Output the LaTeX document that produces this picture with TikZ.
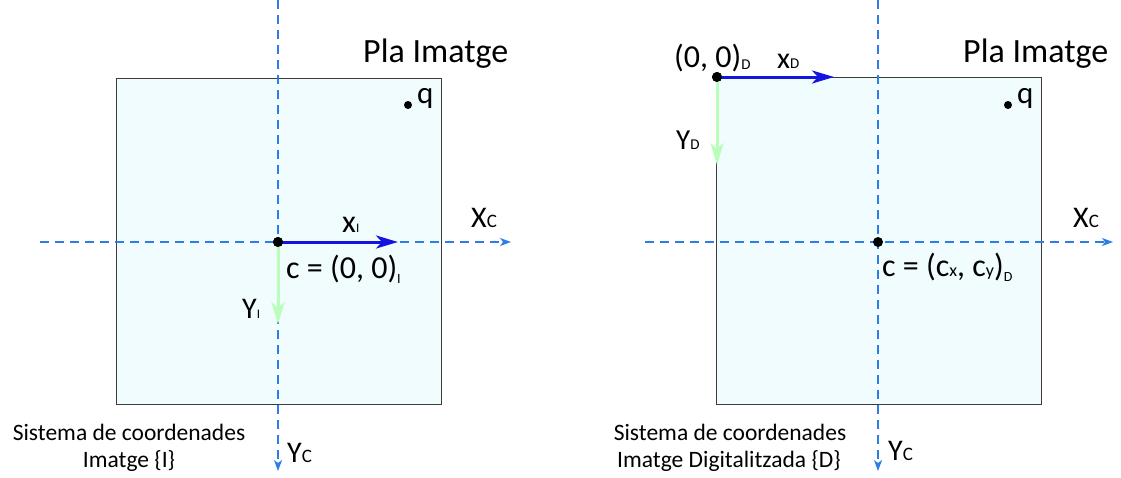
\documentclass[tikz,border=0pt]{standalone}
\usepackage{fontspec}
\setmainfont{Carlito}
\usetikzlibrary{arrows.meta}
\definecolor{axisblue}{RGB}{45,125,230}
\definecolor{vecblue}{RGB}{20,20,225}
\definecolor{vecgreen}{RGB}{185,255,185}
\definecolor{planefill}{RGB}{240,252,253}
\definecolor{planeedge}{RGB}{60,60,60}
\newcommand\fsz[2]{{\fontsize{#1}{#1}\selectfont #2}}
\begin{document}
\begin{tikzpicture}[x=1pt,y=-1pt,
  lbl/.style={inner sep=0pt, anchor=base west},
  plane/.style={draw=planeedge, line width=1pt, fill=planefill},
  axis/.style={draw=axisblue, line width=1.3pt, dash pattern=on 9pt off 6pt,
    -{Stealth[length=11pt,width=8pt,inset=3pt]}},
  xvec/.style={draw=vecblue, line width=3pt, -{Stealth[length=22pt,width=13pt,inset=6pt]}},
  yvec/.style={draw=vecgreen, line width=3pt, -{Stealth[length=22pt,width=13pt,inset=6pt]}},
  pt/.style={circle, fill=black, inner sep=0pt, minimum size=10pt},
  qpt/.style={circle, fill=black, inner sep=0pt, minimum size=8pt},
  sys/.style={inner sep=0pt, anchor=base, font=\fontsize{23.5}{27}\selectfont}]
\useasboundingbox (0,0) rectangle (1121,477);

% ---------- left: image coordinate system {I}
\node[plane, minimum width=325pt, minimum height=326pt, inner sep=0pt, anchor=north west] (planeI) at (116,78) {};
\coordinate (IvTop) at (278,0);
\coordinate (IvBot) at (278,471);
\coordinate (IhL) at (40,242);
\coordinate (IhR) at (511,242);
\draw[axis] (IvTop) -- (IvBot);
\draw[axis] (IhL) -- (IhR);
\node[pt] (cI) at (278,242) {};
\coordinate (xIend) at (398,242);
\coordinate (yIend) at (278,324);
\draw[yvec] (cI.center) -- (yIend);
\draw[xvec] (cI.center) -- (xIend);
\node[pt] (cI2) at (278,242) {};
\node[qpt] (qI) at (408,105) {};
\node[lbl] (qIl) at (417,103) {\fsz{31}{q}};
\node[lbl] (plaI) at (363,62) {\fsz{34}{Pla Imatge}};
\node[lbl] (xIl) at (342,232) {\fsz{32}{x}\fsz{13}{I}};
\node[lbl] (yIl) at (242,318) {\fsz{30}{Y}\fsz{13}{I}};
\node[lbl] (cIl) at (286,278) {\fsz{32}{c = (0, 0)}\raisebox{-5pt}{\fsz{14}{I}}};
\node[lbl] (XCI) at (471,227) {\fsz{30}{X}\fsz{19}{C}};
\node[lbl] (YCI) at (287,462) {\fsz{30}{Y}\fsz{19}{C}};
\node[sys] (sysI1) at (129,440) {Sistema de coordenades};
\node[sys] (sysI2) at (129,467) {Imatge \{I\}};

% ---------- right: digitised image coordinate system {D}
\node[plane, minimum width=325pt, minimum height=327pt, inner sep=0pt, anchor=north west] (planeD) at (716,77) {};
\coordinate (DvTop) at (878,0);
\coordinate (DvBot) at (878,471);
\coordinate (DhL) at (645,242);
\coordinate (DhR) at (1113,242);
\draw[axis] (DvTop) -- (DvBot);
\draw[axis] (DhL) -- (DhR);
\node[pt] (oD) at (717,77) {};
\coordinate (xDend) at (834,77);
\coordinate (yDend) at (717,165);
\draw[yvec] (oD.center) -- (yDend);
\draw[xvec] (oD.center) -- (xDend);
\node[pt] (oD2) at (717,77) {};
\node[pt] (cD) at (878,242) {};
\node[qpt] (qD) at (1008,105) {};
\node[lbl] (qDl) at (1017,103) {\fsz{31}{q}};
\node[lbl] (plaD) at (963,62) {\fsz{34}{Pla Imatge}};
\node[lbl] (oDl) at (674,67) {\fsz{32}{(0, 0)}\raisebox{-2pt}{\fsz{15}{D}}};
\node[lbl] (xDl) at (777,68) {\fsz{30}{x}\fsz{15}{D}};
\node[lbl] (yDl) at (676,149) {\fsz{29}{Y}\fsz{15}{D}};
\node[lbl] (cDl) at (882,276) {\fsz{32}{c = (c}\fsz{18}{x}\fsz{32}{, c}\fsz{18}{y}\fsz{32}{)}\raisebox{-5pt}{\fsz{14}{D}}};
\node[lbl] (XCD) at (1073,227) {\fsz{30}{X}\fsz{19}{C}};
\node[lbl] (YCD) at (888,460) {\fsz{30}{Y}\fsz{19}{C}};
\node[sys] (sysD1) at (730,440) {Sistema de coordenades};
\node[sys] (sysD2) at (729,467) {Imatge Digitalitzada \{D\}};
\end{tikzpicture}
\end{document}
